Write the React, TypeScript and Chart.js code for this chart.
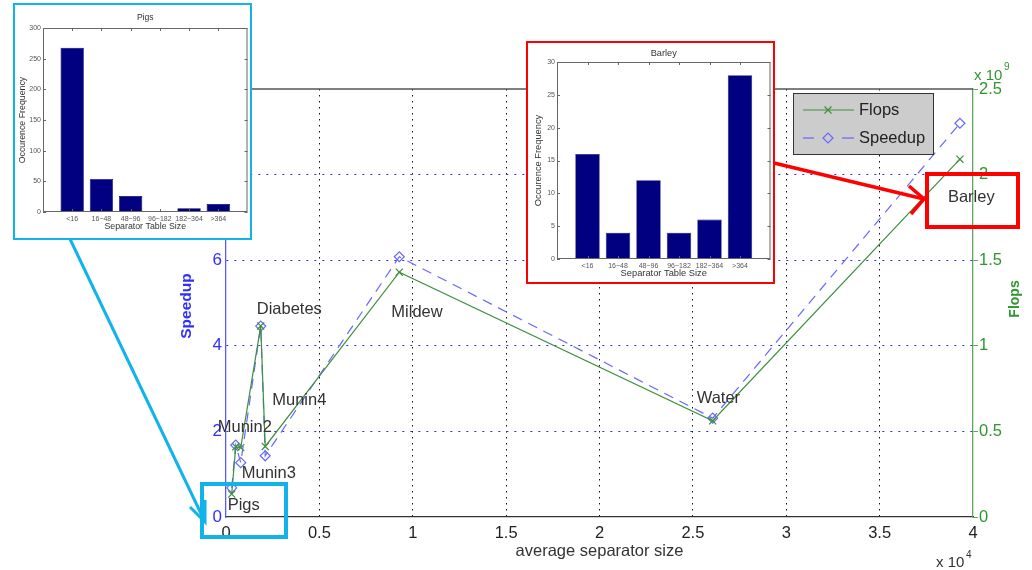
import React, { useEffect, useRef } from "react";
import { Chart, registerables } from "chart.js";

Chart.register(...registerables);

const FONT = '"Liberation Sans", Arial, Helvetica, sans-serif';

// Benchmark networks, ordered by average separator size
const networks = ["Pigs", "Munin2", "Munin3", "Diabetes", "Munin4", "Mildew", "Water", "Barley"];
const avgSeparatorSize = [305, 520, 790, 1860, 2100, 9280, 26060, 39300];
const speedup = [0.68, 1.68, 1.27, 4.46, 1.43, 6.08, 2.31, 9.2];
const flops = [1.34e8, 4.1e8, 4.05e8, 1.116e9, 4.12e8, 1.43e9, 5.62e8, 2.09e9];

// Axis ticks (size in units of 10^4, flops in units of 10^9)
const sizeTicks = [0, 0.5, 1, 1.5, 2, 2.5, 3, 3.5, 4];
const speedupTicks = [0, 2, 4, 6, 8, 10];
const flopsTicks = [0, 0.5, 1, 1.5, 2, 2.5];

// Separator table size histograms
const tableSizeBins = ["<16", "16~48", "48~96", "96~182", "182~364", ">364"];
const pigsFrequency = [268, 54, 26, 0, 6, 13];
const barleyFrequency = [16, 4, 12, 4, 6, 28];
const pigsFreqTicks = [0, 50, 100, 150, 200, 250, 300];
const barleyFreqTicks = [0, 5, 10, 15, 20, 25, 30];

// Where each network name sits relative to its speedup marker (px)
const labelOffsets: [number, number][] = [
  [-4, 18], [-18, -18], [1, 11], [-4, -17], [7, -55], [-8, 56], [-16, -20], [-12, 74],
];

const GREEN_LINE = "#3f8f3f";
const GREEN_AXIS = "#5ea55e";
const GREEN_TEXT = "#2f962f";
const BLUE_LINE = "#6767ff";
const BLUE_AXIS = "#5a5aff";
const BLUE_TEXT = "#2f2fff";
const NAVY = "#000080";
const CYAN = "#12b2ea";
const RED = "#ff0000";

function drawCross(ctx: CanvasRenderingContext2D, x: number, y: number, r: number) {
  ctx.beginPath();
  ctx.moveTo(x - r, y - r);
  ctx.lineTo(x + r, y + r);
  ctx.moveTo(x + r, y - r);
  ctx.lineTo(x - r, y + r);
  ctx.stroke();
}

function drawDiamond(ctx: CanvasRenderingContext2D, x: number, y: number, r: number) {
  ctx.beginPath();
  ctx.moveTo(x - r, y);
  ctx.lineTo(x, y - r);
  ctx.lineTo(x + r, y);
  ctx.lineTo(x, y + r);
  ctx.closePath();
  ctx.stroke();
}

function polyline(ctx: CanvasRenderingContext2D, pts: number[][]) {
  ctx.beginPath();
  ctx.moveTo(pts[0][0], pts[0][1]);
  for (let i = 1; i < pts.length; i++) ctx.lineTo(pts[i][0], pts[i][1]);
  ctx.stroke();
}

const decorations = {
  id: "decorations",
  afterDatasetsDraw(chart: any) {
    const { ctx, scales } = chart;
    ctx.save();
    ctx.font = `16.5px ${FONT}`;
    ctx.fillStyle = "#333";
    ctx.textAlign = "left";
    ctx.textBaseline = "middle";
    networks.forEach((name, i) => {
      const px = scales.x.getPixelForValue(avgSeparatorSize[i]) + labelOffsets[i][0];
      const py = scales.ySpeed.getPixelForValue(speedup[i]) + labelOffsets[i][1];
      ctx.fillText(name, px, py);
    });
    ctx.restore();
  },
  afterDraw(chart: any) {
    const { ctx, chartArea: a } = chart;
    ctx.save();

    // upper frame edge
    ctx.strokeStyle = "#555";
    ctx.lineWidth = 1.5;
    ctx.beginPath();
    ctx.moveTo(a.left, a.top);
    ctx.lineTo(a.right, a.top);
    ctx.stroke();

    // axis titles
    ctx.textAlign = "center";
    ctx.textBaseline = "middle";
    ctx.fillStyle = "#333";
    ctx.font = `16.5px ${FONT}`;
    ctx.fillText("average separator size", (a.left + a.right) / 2, 551);

    ctx.save();
    ctx.translate(187, 306);
    ctx.rotate(-Math.PI / 2);
    ctx.fillStyle = BLUE_TEXT;
    ctx.font = `bold 15.5px ${FONT}`;
    ctx.fillText("Speedup", 0, 0);
    ctx.restore();

    ctx.save();
    ctx.translate(1015, 299);
    ctx.rotate(-Math.PI / 2);
    ctx.fillStyle = GREEN_TEXT;
    ctx.font = `bold 14px ${FONT}`;
    ctx.fillText("Flops", 0, 0);
    ctx.restore();

    // axis multipliers
    ctx.textAlign = "left";
    ctx.fillStyle = "#333";
    ctx.font = `15px ${FONT}`;
    ctx.fillText("x 10", 936, 563);
    ctx.font = `10px ${FONT}`;
    ctx.fillText("4", 966, 555);
    ctx.fillStyle = GREEN_TEXT;
    ctx.font = `15px ${FONT}`;
    ctx.fillText("x 10", 974, 76);
    ctx.font = `10px ${FONT}`;
    ctx.fillText("9", 1004, 67);

    // legend
    ctx.fillStyle = "#cccccc";
    ctx.fillRect(793.5, 93.5, 140, 61);
    ctx.strokeStyle = "#333";
    ctx.lineWidth = 1;
    ctx.strokeRect(793.5, 93.5, 140, 61);
    ctx.strokeStyle = GREEN_LINE;
    ctx.lineWidth = 1.2;
    polyline(ctx, [[803, 110], [854, 110]]);
    drawCross(ctx, 828, 110, 3.5);
    ctx.strokeStyle = BLUE_LINE;
    polyline(ctx, [[803, 138], [814, 138]]);
    polyline(ctx, [[842, 138], [854, 138]]);
    drawDiamond(ctx, 828, 138, 5);
    ctx.fillStyle = "#222";
    ctx.font = `16.5px ${FONT}`;
    ctx.fillText("Flops", 859, 110);
    ctx.fillText("Speedup", 859, 138);

    // callouts pointing at the histogram insets
    ctx.lineCap = "butt";
    ctx.lineJoin = "miter";
    ctx.strokeStyle = CYAN;
    ctx.lineWidth = 4;
    ctx.strokeRect(202, 484, 84, 53);
    ctx.lineWidth = 3;
    polyline(ctx, [[70, 239], [205, 522]]);
    polyline(ctx, [[190, 507], [205, 522], [205, 500]]);

    ctx.strokeStyle = RED;
    ctx.lineWidth = 4;
    ctx.strokeRect(927, 174, 91, 53);
    ctx.lineWidth = 3.5;
    polyline(ctx, [[774, 163], [924, 199]]);
    polyline(ctx, [[909, 186], [924, 199], [911, 214]]);

    ctx.restore();
  },
};

function MainChart() {
  const ref = useRef<HTMLCanvasElement>(null);
  useEffect(() => {
    const chart = new Chart(ref.current as HTMLCanvasElement, {
      type: "line",
      data: {
        datasets: [
          {
            label: "Flops",
            data: avgSeparatorSize.map((x, i) => ({ x, y: flops[i] })),
            yAxisID: "yFlops",
            borderColor: GREEN_LINE,
            borderWidth: 1.2,
            pointStyle: "crossRot",
            pointRadius: 5,
            pointBorderColor: GREEN_LINE,
            pointBorderWidth: 1.2,
            pointBackgroundColor: "transparent",
            tension: 0,
            fill: false,
          },
          {
            label: "Speedup",
            data: avgSeparatorSize.map((x, i) => ({ x, y: speedup[i] })),
            yAxisID: "ySpeed",
            borderColor: BLUE_LINE,
            borderWidth: 1.2,
            borderDash: [10, 7],
            pointStyle: "rectRot",
            pointRadius: 5,
            pointBorderColor: BLUE_LINE,
            pointBorderWidth: 1.2,
            pointBackgroundColor: "transparent",
            tension: 0,
            fill: false,
          },
        ] as any,
      },
      options: {
        animation: false,
        responsive: false,
        maintainAspectRatio: false,
        layout: { padding: { left: 186, right: 19, top: 89, bottom: 23 } },
        plugins: { legend: { display: false }, tooltip: { enabled: false } },
        scales: {
          x: {
            type: "linear",
            min: sizeTicks[0] * 1e4,
            max: sizeTicks[sizeTicks.length - 1] * 1e4,
            afterBuildTicks: (s: any) => {
              s.ticks = sizeTicks.map((v) => ({ value: v * 1e4 }));
            },
            afterFit: (s: any) => {
              s.height = 30;
            },
            ticks: {
              callback: (v: any) => String(Number(v) / 1e4),
              color: "#222",
              padding: 7,
              font: { family: FONT, size: 16.5 },
            },
            grid: {
              drawTicks: false,
              lineWidth: 1,
              color: (c: any) =>
                c.tick && (c.tick.value === 0 || c.tick.value === 4e4) ? "rgba(0,0,0,0)" : "#111",
            },
            border: { display: true, color: "#333", width: 1.2, dash: [1.5, 4.5] },
          },
          ySpeed: {
            type: "linear",
            position: "left",
            min: speedupTicks[0],
            max: speedupTicks[speedupTicks.length - 1],
            afterBuildTicks: (s: any) => {
              s.ticks = speedupTicks.map((v) => ({ value: v }));
            },
            afterFit: (s: any) => {
              s.width = 40;
            },
            ticks: { color: BLUE_TEXT, padding: 4, font: { family: FONT, size: 17 } },
            grid: {
              drawTicks: false,
              lineWidth: 1,
              color: (c: any) =>
                c.tick && (c.tick.value === 0 || c.tick.value === 10) ? "rgba(0,0,0,0)" : "#2a2aff",
            },
            border: { display: true, color: BLUE_AXIS, width: 1.3, dash: [2, 6] },
          },
          yFlops: {
            type: "linear",
            position: "right",
            min: flopsTicks[0] * 1e9,
            max: flopsTicks[flopsTicks.length - 1] * 1e9,
            afterBuildTicks: (s: any) => {
              s.ticks = flopsTicks.map((v) => ({ value: v * 1e9 }));
            },
            afterFit: (s: any) => {
              s.width = 40;
            },
            ticks: {
              callback: (v: any) => String(Number(v) / 1e9),
              color: GREEN_TEXT,
              padding: 1,
              font: { family: FONT, size: 16.5 },
            },
            grid: {
              drawOnChartArea: false,
              drawTicks: true,
              tickLength: 5,
              tickColor: GREEN_AXIS,
              color: GREEN_AXIS,
            },
            border: { display: true, color: GREEN_AXIS, width: 1.3 },
          },
        },
      } as any,
      plugins: [decorations],
    });
    return () => chart.destroy();
  }, []);
  return <canvas ref={ref} width={1032} height={570} style={{ position: "absolute", left: 0, top: 0 }} />;
}

type InsetProps = {
  title: string;
  counts: number[];
  ticks: number[];
  left: number;
  top: number;
  width: number;
  height: number;
  color: string;
  plot: { left: number; right: number; top: number; bottom: number };
  titleSize: number;
  labelSize: number;
  titleY: number;
  yTitleX: number;
  xTitleY: number;
};

function InsetBar(p: InsetProps) {
  const ref = useRef<HTMLCanvasElement>(null);
  const cw = p.width - 4;
  const ch = p.height - 4;
  useEffect(() => {
    const yAxisW = 20;
    const xAxisH = 16;
    const frame = {
      id: "insetFrame",
      afterDraw(chart: any) {
        const { ctx, chartArea: a, scales } = chart;
        ctx.save();
        ctx.strokeStyle = "#666";
        ctx.lineWidth = 1;
        ctx.strokeRect(a.left + 0.5, a.top + 0.5, a.right - a.left - 1, a.bottom - a.top - 1);
        ctx.beginPath();
        scales.y.ticks.forEach((t: any) => {
          const y = Math.round(scales.y.getPixelForValue(t.value)) + 0.5;
          ctx.moveTo(a.left, y);
          ctx.lineTo(a.left + 3, y);
          ctx.moveTo(a.right - 3, y);
          ctx.lineTo(a.right, y);
        });
        for (let i = 1; i <= tableSizeBins.length; i++) {
          const x = Math.round(scales.x.getPixelForValue(i)) + 0.5;
          ctx.moveTo(x, a.bottom);
          ctx.lineTo(x, a.bottom - 3);
          ctx.moveTo(x, a.top);
          ctx.lineTo(x, a.top + 3);
        }
        ctx.stroke();

        ctx.fillStyle = "#333";
        ctx.textAlign = "center";
        ctx.textBaseline = "middle";
        ctx.font = `${p.titleSize}px ${FONT}`;
        ctx.fillText(p.title, (a.left + a.right) / 2, p.titleY);
        ctx.font = `${p.labelSize}px ${FONT}`;
        ctx.fillText("Separator Table Size", (a.left + a.right) / 2, p.xTitleY);
        ctx.translate(p.yTitleX, (a.top + a.bottom) / 2);
        ctx.rotate(-Math.PI / 2);
        ctx.fillText("Occurence Frequency", 0, 0);
        ctx.restore();
      },
    };
    const chart = new Chart(ref.current as HTMLCanvasElement, {
      type: "bar",
      data: {
        labels: ["", ...tableSizeBins, ""],
        datasets: [
          {
            data: [null, ...p.counts, null],
            backgroundColor: NAVY,
            borderColor: "#00005a",
            borderWidth: 0.6,
            barPercentage: 0.8,
            categoryPercentage: 1,
          },
        ],
      },
      options: {
        animation: false,
        responsive: false,
        maintainAspectRatio: false,
        layout: {
          padding: {
            left: p.plot.left - yAxisW,
            right: cw - p.plot.right,
            top: p.plot.top,
            bottom: ch - p.plot.bottom - xAxisH,
          },
        },
        plugins: { legend: { display: false }, tooltip: { enabled: false } },
        scales: {
          x: {
            type: "category",
            offset: false,
            grid: { display: false, drawTicks: false },
            border: { display: false },
            ticks: {
              autoSkip: false,
              maxRotation: 0,
              minRotation: 0,
              padding: 2.5,
              color: "#555",
              font: { family: FONT, size: 7 },
            },
            afterFit: (s: any) => {
              s.height = xAxisH;
            },
          },
          y: {
            min: p.ticks[0],
            max: p.ticks[p.ticks.length - 1],
            afterBuildTicks: (s: any) => {
              s.ticks = p.ticks.map((v) => ({ value: v }));
            },
            grid: { display: false, drawTicks: false },
            border: { display: false },
            ticks: { padding: 2, color: "#555", font: { family: FONT, size: 7 } },
            afterFit: (s: any) => {
              s.width = yAxisW;
            },
          },
        },
      } as any,
      plugins: [frame],
    });
    return () => chart.destroy();
  }, []);
  return (
    <div
      style={{
        position: "absolute",
        left: p.left,
        top: p.top,
        width: p.width,
        height: p.height,
        boxSizing: "border-box",
        border: `2px solid ${p.color}`,
        background: "#fff",
      }}
    >
      <canvas ref={ref} width={cw} height={ch} style={{ display: "block" }} />
    </div>
  );
}

export default function App() {
  return (
    <div
      style={{
        position: "fixed",
        left: 0,
        top: 0,
        width: 1032,
        height: 570,
        background: "#fff",
        overflow: "hidden",
      }}
    >
      <MainChart />
      <InsetBar
        title="Pigs"
        counts={pigsFrequency}
        ticks={pigsFreqTicks}
        left={13}
        top={3}
        width={239}
        height={237}
        color={CYAN}
        plot={{ left: 28, right: 233, top: 23, bottom: 207 }}
        titleSize={8.6}
        labelSize={8.8}
        titleY={13}
        yTitleX={8}
        xTitleY={222}
      />
      <InsetBar
        title="Barley"
        counts={barleyFrequency}
        ticks={barleyFreqTicks}
        left={526}
        top={41}
        width={249}
        height={243}
        color={RED}
        plot={{ left: 29, right: 244, top: 19, bottom: 216 }}
        titleSize={9.2}
        labelSize={9.3}
        titleY={10}
        yTitleX={10}
        xTitleY={230}
      />
    </div>
  );
}
